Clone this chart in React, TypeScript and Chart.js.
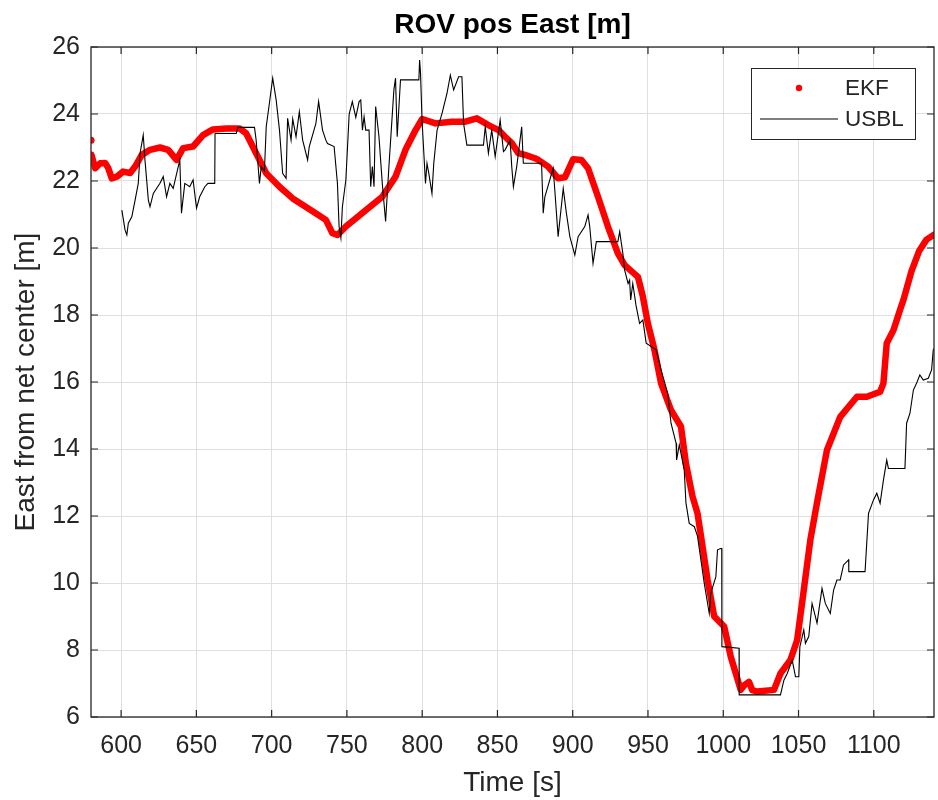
import React, { useEffect, useRef } from "react";
import { Chart, registerables } from "chart.js";

Chart.register(...registerables);

// Axis ticks
const xTicks = [600, 650, 700, 750, 800, 850, 900, 950, 1000, 1050, 1100];
const yTicks = [6, 8, 10, 12, 14, 16, 18, 20, 22, 24, 26];

// EKF estimate of the ROV east position (null breaks the trace after the first sample)
const ekfTime = [
  580, 580.1, 580.3, 582.8, 586.1, 589.4, 591.4, 593.8, 597.2, 601.3, 606, 609.3, 613.7, 619.2,
  625.8, 631.3, 636.8, 641.2, 647.8, 654.4, 661, 669.9, 678.7, 683.1, 689.7, 696.4, 705.2, 714,
  727.2, 736, 740.4, 743.7, 749.3, 755, 762.5, 773.5, 782.3, 788.9, 795.6, 800, 808.8, 819.8,
  828.6, 836.3, 844, 850.7, 855.1, 859.5, 863.9, 868.3, 874.9, 877.1, 883.7, 890.3, 894.8, 900.3,
  905.8, 910.2, 916.8, 923.4, 930, 934.5, 943.3, 946.6, 949.9, 954.3, 958.7, 965.3, 971.9, 975.2,
  979.6, 982.9, 989.6, 994, 1000.6, 1005, 1011.6, 1014, 1017.1, 1019.3, 1022.6, 1033.7, 1038,
  1044.6, 1049.1, 1053.5, 1057.9, 1062.3, 1068.9, 1077.7, 1088.8, 1095.4, 1104.2, 1106.4, 1108.6,
  1113.1, 1117.4, 1119.7, 1125, 1130, 1135, 1140,
];
const ekfEast = [
  23.22, null, 22.78, 22.38, 22.53, 22.54, 22.39, 22.08, 22.13, 22.28, 22.24, 22.43, 22.78, 22.93,
  23.0, 22.93, 22.63, 22.98, 23.03, 23.37, 23.54, 23.57, 23.57, 23.42, 22.83, 22.23, 21.83, 21.48,
  21.1, 20.84, 20.44, 20.39, 20.64, 20.85, 21.13, 21.53, 22.13, 22.93, 23.52, 23.85, 23.72, 23.77,
  23.77, 23.87, 23.67, 23.52, 23.32, 23.13, 22.83, 22.78, 22.68, 22.63, 22.43, 22.08, 22.11, 22.65,
  22.63, 22.38, 21.53, 20.64, 19.84, 19.49, 19.14, 18.55, 17.75, 16.96, 15.96, 15.16, 14.67, 13.57,
  12.58, 12.08, 10.09, 9.0, 8.7, 7.8, 6.81, 6.95, 7.05, 6.8, 6.76, 6.81, 7.3,
  7.7, 8.3, 9.79, 11.3, 12.4, 13.97, 14.96, 15.56, 15.56, 15.71, 15.96, 17.16,
  17.55, 18.15, 18.45, 19.3, 19.9, 20.25, 20.4,
];

// USBL position fixes
const usblTime = [
  600.5, 602.6, 603.8, 604.8, 607.1, 609.3, 611.4, 612.6, 614.7, 615.9, 618.1, 619.2, 621.4, 625.8,
  628, 630.2, 632.4, 634.6, 639, 640.1, 642.3, 645.6, 647.8, 650.1, 652.2, 655.6, 657.7, 662.2,
  662.4, 676.5, 677.6, 688.6, 689.7, 691.9, 693.1, 695.2, 696.4, 698.5, 700.7, 703, 705.2, 707.3,
  709.6, 710.6, 712.9, 714, 716.2, 718.4, 720.6, 723.9, 725, 729.4, 731.2, 733.8, 736, 737.1,
  741.5, 743.7, 744.8, 746, 747, 749.3, 751.5, 753.6, 755.9, 758.1, 759.2, 760.3, 761.4, 762.5,
  764.7, 765.8, 766.9, 768, 769.1, 771.3, 773.5, 775.7, 777.9, 781.2, 782.3, 783.4, 785.6, 797.8,
  798.3, 798.9, 799.9, 802.2, 803.2, 804.4, 806.5, 807.7, 809.9, 813.2, 816.5, 818.7, 820.9, 824.2,
  826.4, 827.5, 829.7, 840.7, 841.9, 844, 846.2, 848.5, 851.8, 854, 855.1, 858.4, 859.5, 860.6,
  862.8, 865, 866.1, 867.2, 879.3, 880.4, 881.5, 887, 888.1, 890.3, 893.7, 895.8, 898.1, 901.4,
  903.6, 908, 910.2, 911.3, 913.5, 915.7, 930, 931.2, 933.3, 934.5, 936.8, 937.8, 938.5, 939.9,
  942, 944.4, 946.6, 948.8, 955.4, 958.7, 963.1, 965.3, 968.7, 969, 970.8, 974.1, 975.2, 977.4,
  980.8, 982.9, 987.4, 990.7, 991.7, 995.1, 996.2, 998.3, 999, 999.1, 1010.5, 1010.6, 1038, 1040.3,
  1042.5, 1045.8, 1048, 1050.2, 1050.9, 1053.5, 1054.6, 1056.8, 1059, 1062.3, 1065.6, 1067.8, 1071.1,
  1073.3, 1075.5, 1077.7, 1079.9, 1083.3, 1083.4, 1094.2, 1096.5, 1099.8, 1102, 1104.2, 1106.4,
  1108.6, 1109.7, 1120.7, 1121.8, 1124, 1126.3, 1128.4, 1130.6, 1132.9, 1136.2, 1138.4, 1139.5, 1140,
];
const usblEast = [
  21.13, 20.54, 20.39, 20.74, 20.93, 21.43, 21.93, 22.83, 23.37, 22.6, 21.43, 21.23, 21.63, 21.93,
  22.13, 21.53, 21.93, 21.78, 22.63, 21.04, 21.93, 21.83, 22.03, 21.19, 21.53, 21.83, 21.93, 21.93,
  23.42, 23.42, 23.6, 23.6, 23.22, 21.93, 22.43, 22.3, 23.62, 24.32, 25.07, 24.42, 23.52, 22.23,
  22.08, 23.87, 23.22, 23.85, 23.32, 24.07, 23.22, 22.63, 23.03, 23.72, 24.37, 23.52, 23.22, 23.12,
  23.03, 21.93, 20.64, 20.3, 21.23, 22.03, 24.0, 24.37, 23.9, 24.37, 24.42, 23.52, 23.92, 23.52,
  23.52, 21.83, 22.43, 21.83, 24.22, 23.32, 21.93, 20.79, 22.43, 24.72, 25.07, 23.32, 25.02, 25.02,
  25.61, 25.22, 23.82, 21.93, 22.53, 22.23, 21.63, 22.53, 23.52, 24.02, 24.62, 25.16, 24.72, 25.11,
  25.11, 23.72, 23.07, 23.07, 23.62, 22.83, 23.52, 22.73, 23.82, 22.88, 22.93, 23.22, 22.43, 21.83,
  22.43, 23.22, 23.62, 22.53, 22.53, 21.04, 21.53, 22.38, 21.73, 20.34, 21.78, 21.04, 20.34, 19.79,
  20.34, 20.64, 20.99, 20.64, 19.54, 20.19, 20.19, 20.49, 19.84, 19.34, 18.94, 19.04, 18.45, 18.94,
  18.3, 17.75, 17.85, 17.16, 16.96, 16.36, 15.66, 14.77, 14.17, 13.67, 14.12, 13.37, 12.4, 11.78,
  11.68, 11.4, 9.99, 9.09, 9.69, 10.19, 10.99, 11.03, 11.03, 8.1, 8.05, 6.66, 6.66, 7.1,
  7.3, 7.7, 7.2, 7.2, 8.1, 8.6, 8.2, 8.4, 9.39, 8.8, 9.84, 9.39, 9.09,
  9.79, 10.09, 10.09, 10.54, 10.69, 10.34, 10.34, 12.08, 12.48, 12.68, 12.38, 13.07,
  13.67, 13.42, 13.42, 14.77, 15.06, 15.76, 15.96, 16.21, 16.06, 16.11, 16.36, 16.96, 17.0,
];

const FONT = "'Liberation Sans', Arial, Helvetica, sans-serif";
const INK = "#262626";
const GRID = "#dfdfdf";
const RED = "#ff0000";

// Axes box with inward tick marks on all four sides, plus title and legend
const boxPlugin = {
  id: "axesBox",
  afterDatasetsDraw(chart: any) {
    const { ctx, chartArea: a, scales } = chart;
    const len = 7;
    ctx.save();
    ctx.strokeStyle = INK;
    ctx.lineWidth = 1.3;
    ctx.strokeRect(a.left, a.top, a.right - a.left, a.bottom - a.top);
    ctx.lineWidth = 1.2;
    ctx.beginPath();
    for (const v of xTicks) {
      const px = scales.x.getPixelForValue(v);
      ctx.moveTo(px, a.bottom);
      ctx.lineTo(px, a.bottom - len);
      ctx.moveTo(px, a.top);
      ctx.lineTo(px, a.top + len);
    }
    for (const v of yTicks) {
      const py = scales.y.getPixelForValue(v);
      ctx.moveTo(a.left, py);
      ctx.lineTo(a.left + len, py);
      ctx.moveTo(a.right, py);
      ctx.lineTo(a.right - len, py);
    }
    ctx.stroke();
    ctx.restore();
  },
  afterDraw(chart: any) {
    const { ctx, chartArea: a } = chart;
    ctx.save();
    // title
    ctx.fillStyle = "#000";
    ctx.font = `bold 28px ${FONT}`;
    ctx.textAlign = "center";
    ctx.textBaseline = "alphabetic";
    ctx.fillText("ROV pos East [m]", (a.left + a.right) / 2, 33);

    // legend
    const w = 164;
    const h = 71;
    const bx = a.right - 19 - w;
    const by = a.top + 21;
    ctx.fillStyle = "#fff";
    ctx.fillRect(bx, by, w, h);
    ctx.strokeStyle = INK;
    ctx.lineWidth = 1;
    ctx.strokeRect(bx + 0.5, by + 0.5, w, h);
    const r1 = by + 20;
    const r2 = by + 51;
    ctx.fillStyle = RED;
    ctx.beginPath();
    ctx.arc(bx + 48, r1, 3.2, 0, Math.PI * 2);
    ctx.fill();
    ctx.strokeStyle = "#000";
    ctx.lineWidth = 1.1;
    ctx.beginPath();
    ctx.moveTo(bx + 9, r2);
    ctx.lineTo(bx + 87, r2);
    ctx.stroke();
    ctx.fillStyle = INK;
    ctx.font = `22.5px ${FONT}`;
    ctx.textAlign = "left";
    ctx.textBaseline = "middle";
    ctx.fillText("EKF", bx + 94, r1 + 1);
    ctx.fillText("USBL", bx + 94, r2 + 1);
    ctx.restore();
  },
};

export default function App() {
  const ref = useRef<HTMLCanvasElement | null>(null);

  useEffect(() => {
    if (!ref.current) return;
    const ekf = ekfTime.map((t, i) => ({ x: t, y: ekfEast[i] }));
    const usbl = usblTime.map((t, i) => ({ x: t, y: usblEast[i] }));
    const chart = new Chart(ref.current, {
      type: "line",
      data: {
        datasets: [
          {
            label: "EKF",
            data: ekf as any,
            borderColor: RED,
            backgroundColor: RED,
            borderWidth: 6.5,
            borderCapStyle: "round",
            borderJoinStyle: "round",
            pointRadius: (c: any) => (c.dataIndex === 0 ? 3.5 : 0),
            pointBorderWidth: 0,
            spanGaps: false,
            tension: 0,
            order: 1,
          },
          {
            label: "USBL",
            data: usbl as any,
            borderColor: "#000",
            borderWidth: 1.1,
            pointRadius: 0,
            tension: 0,
            order: 0,
          },
        ],
      },
      options: {
        animation: false,
        responsive: false,
        devicePixelRatio: 1,
        events: [],
        layout: { padding: { top: 47, right: 1, bottom: 0, left: 0 } },
        plugins: {
          legend: { display: false },
          tooltip: { enabled: false },
          title: { display: false },
        },
        scales: {
          x: {
            type: "linear",
            min: 580,
            max: 1140,
            afterBuildTicks: (s: any) => {
              s.ticks = xTicks.map((v) => ({ value: v }));
            },
            afterFit: (s: any) => {
              s.height = 83;
            },
            grid: { color: GRID, lineWidth: 1, drawTicks: false },
            border: { display: false },
            ticks: {
              font: { family: FONT, size: 25 },
              color: INK,
              padding: 14,
              maxRotation: 0,
              autoSkip: false,
              callback: (v: any) => String(v),
            },
            title: {
              display: true,
              text: "Time [s]",
              font: { family: FONT, size: 28 },
              color: INK,
              padding: { top: 0, bottom: 0 },
            },
          },
          y: {
            type: "linear",
            min: 6,
            max: 26,
            afterBuildTicks: (s: any) => {
              s.ticks = yTicks.map((v) => ({ value: v }));
            },
            afterFit: (s: any) => {
              s.width = 91;
            },
            grid: { color: GRID, lineWidth: 1, drawTicks: false },
            border: { display: false },
            ticks: {
              font: { family: FONT, size: 25 },
              color: INK,
              padding: 11,
              autoSkip: false,
              callback: (v: any) => String(v),
            },
            title: {
              display: true,
              text: "East from net center [m]",
              font: { family: FONT, size: 28 },
              color: INK,
              padding: { top: 9, bottom: 0 },
            },
          },
        },
      },
      plugins: [boxPlugin],
    });
    return () => chart.destroy();
  }, []);

  return (
    <div style={{ position: "absolute", left: 0, top: 0, width: 938, height: 800, background: "#fff" }}>
      <canvas ref={ref} width={938} height={800} style={{ display: "block" }} />
    </div>
  );
}
